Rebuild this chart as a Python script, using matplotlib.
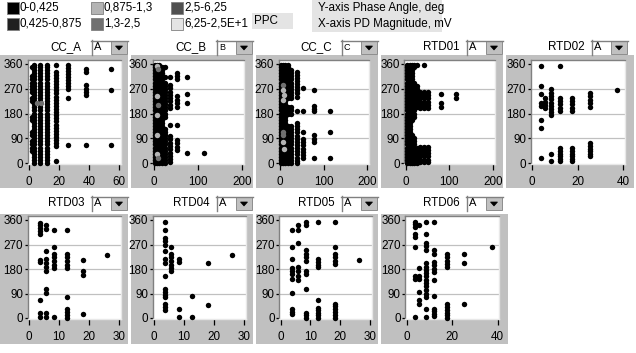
import matplotlib
matplotlib.use('Agg')
import matplotlib.pyplot as plt
from matplotlib.patches import Rectangle, Polygon
from matplotlib.lines import Line2D

# ---------------- data ----------------
legend_labels = ['0-0,425', '0,425-0,875', '0,875-1,3', '1,3-2,5', '2,5-6,25', '6,25-2,5E+1']
legend_colors = ['#000000', '#202020', '#b4b4b4', '#707070', '#505050', '#e4e4e4']
axis_info = ['Y-axis Phase Angle, deg', 'X-axis PD Magnitude, mV']
y_ticks = [0, 90, 180, 270, 360]

panel_names = ['CC_A', 'CC_B', 'CC_C', 'RTD01', 'RTD02', 'RTD03', 'RTD04', 'RTD05', 'RTD06']
panel_phase = ['A', 'B', 'C', 'A', 'A', 'A', 'A', 'A', 'A']
panel_xmax = [60, 200, 200, 200, 40, 30, 30, 30, 40]
panel_xticks = [[0, 20, 40, 60], [0, 100, 200], [0, 100, 200], [0, 100, 200], [0, 20, 40],
                [0, 10, 20, 30], [0, 10, 20, 30], [0, 10, 20, 30], [0, 20, 40]]

# columns of points: (magnitude, [phase angles])
cc_a_cols = [
    (1.8, [349, 315, 304, 292, 281, 270, 259, 236, 225, 169, 158, 112, 101, 79, 68, 56, 45]),
    (3.6, [0, 11, 22, 34, 45, 56, 68, 79, 90, 101, 112, 124, 135, 146, 158, 169, 180, 191, 202, 214,
           225, 236, 248, 259, 270, 281, 292, 304, 315, 326, 338, 349, 358]),
    (7.3, [0, 11, 22, 34, 45, 56, 68, 79, 90, 101, 112, 124, 135, 146, 158, 169, 180, 191, 202, 214,
           225, 236, 248, 259, 270, 281, 292, 304, 315, 326, 338, 349, 358]),
    (12.1, [0, 11, 22, 34, 45, 56, 68, 79, 90, 101, 112, 124, 135, 146, 158, 169, 180, 191, 202, 214,
            225, 236, 248, 259, 270, 281, 292, 304, 315, 326, 338, 349, 358]),
    (17.9, [358, 331, 320, 309, 298, 286, 275, 264, 253, 241, 230, 219, 208, 196, 185, 174, 163, 151,
            140, 129, 118, 106, 95, 84, 73, 61, 6]),
    (25.7, [358, 347, 336, 325, 314, 302, 291, 280, 269, 238, 67]),
    (37.9, [342, 331, 282, 270, 258, 247, 67]),
    (54.7, [342, 266, 67]),
]
cc_a_gray = [(5.2, 220, 3), (8.0, 220, 3)]

cc_b_cols = [
    (2.5, [0, 11, 22, 34, 45, 56, 68, 79, 90, 101, 112, 124, 135, 146, 158, 169, 180, 191, 202, 214,
           225, 236, 248, 259, 270, 281, 292, 304, 315, 326, 338, 349, 358]),
    (7.0, [0, 11, 22, 34, 45, 56, 68, 79, 90, 101, 112, 124, 135, 146, 158, 169, 180, 191, 202, 214,
           225, 236, 248, 259, 270, 281, 292, 304, 315, 326, 338, 349, 358]),
    (12.0, [0, 11, 22, 34, 45, 56, 68, 79, 90, 101, 112, 124, 135, 146, 158, 169, 180, 191, 202, 214,
            225, 236, 248, 259, 270, 281, 292, 304, 315, 326, 338, 349, 358]),
    (18.0, [0, 11, 22, 34, 45, 56, 68, 79, 90, 101, 112, 124, 135, 146, 158, 169, 180, 191, 202, 214,
            225, 236, 248, 259, 270, 281, 292, 304, 315, 326, 338, 349]),
    (24.0, [349, 311, 292, 281, 270, 259, 248, 236, 225, 214, 202, 191, 180, 169, 124, 112, 101, 90,
            79, 68, 56, 45, 34, 22, 11, 0]),
    (36.0, [311, 284, 272, 260, 248, 236, 224, 212, 200, 140, 98, 86, 74, 62, 50, 38, 26, 14, 2]),
    (53.0, [329, 317, 305, 242, 229, 217, 205, 140, 83, 71, 59, 46]),
    (76.0, [311, 251, 217, 38]),
    (114.0, [38]),
]
cc_b_gray = [(6, 352, 2), (8, 343, 3), (6, 242, 2), (8, 211, 3), (6, 175, 2), (6, 101, 2),
             (6, 34, 2), (8, 18, 3)]

cc_c_cols = [
    (2.5, [0, 11, 22, 34, 45, 56, 68, 79, 90, 101, 112, 124, 135, 146, 158, 169, 180, 191, 202, 214,
           225, 236, 248, 259, 270, 281, 292, 304, 315, 326, 338, 349, 358]),
    (7.5, [0, 11, 22, 34, 45, 56, 68, 79, 90, 101, 112, 124, 135, 146, 158, 169, 180, 191, 202, 214,
           225, 236, 248, 259, 270, 281, 292, 304, 315, 326, 338, 349, 358]),
    (12.5, [0, 11, 22, 34, 45, 56, 68, 79, 90, 101, 112, 124, 135, 146, 158, 169, 180, 191, 202, 214,
            225, 236, 248, 259, 270, 281, 292, 304, 315, 326, 338, 349, 358]),
    (18.5, [358, 349, 338, 326, 315, 304, 292, 281, 270, 259, 248, 236, 202, 191, 180, 135, 124, 112,
            101, 90, 79, 68, 56, 45, 34, 22, 11, 0]),
    (26.0, [338, 326, 315, 304, 292, 281, 270, 259, 248, 236, 202, 191, 180, 135, 124, 112, 101, 90,
            79, 68, 56, 45, 34, 22, 11, 0]),
    (38.0, [331, 320, 309, 298, 286, 275, 264, 253, 241, 189, 144, 133, 122, 111, 99, 88, 77, 65, 54,
            43, 32, 20, 9, 0]),
    (53.0, [272, 189, 113, 87, 77, 65, 52, 40, 28, 20]),
    (78.0, [266, 207, 196, 189, 101, 89, 77, 20]),
    (114.0, [189, 113, 20]),
]
cc_c_gray = [(8, 284, 3), (8, 266, 2), (10, 248, 2), (8, 229, 2), (8, 113, 3), (8, 101, 3),
             (8, 77, 2), (9, 52, 2)]

rtd01_cols = [
    (4, [0, 11, 22, 34, 45, 56, 68, 79, 90, 101, 112, 124, 135, 146, 158, 169, 180, 191, 202, 214,
         225, 236, 248, 259, 270, 281, 292, 304, 315, 326, 338, 349, 358]),
    (9, [0, 11, 22, 34, 45, 56, 68, 79, 90, 101, 112, 124, 135, 146, 158, 169, 180, 191, 202, 214,
         225, 236, 248, 259, 270, 281, 292, 304, 315, 326, 338, 349, 358]),
    (14, [358, 349, 338, 326, 315, 304, 292, 281, 270, 259, 248, 236, 225, 214, 202, 191, 180, 169,
          158, 101, 90, 79, 68, 56, 45, 34, 22, 11, 0]),
    (19, [358, 349, 292, 281, 270, 259, 248, 236, 225, 214, 202, 191, 180, 169, 90, 79, 68, 56, 45,
          34, 22, 11, 0]),
    (25, [358, 281, 270, 259, 248, 236, 225, 214, 202, 56, 45, 34, 22, 11, 0]),
    (33, [258, 246, 235, 223, 212, 200, 58, 47, 35, 24, 12, 2]),
    (42, [358, 258, 246, 235, 223, 212, 200, 58, 47, 35, 24, 12, 2]),
    (52, [258, 246, 235, 223, 212, 200, 58, 47, 35, 24, 12, 2]),
    (80, [251, 217, 205]),
    (115, [251, 238]),
]

rtd02_cols = [
    (4.0, [354, 281, 250, 217, 209, 156, 126, 20]),
    (5.9, [235, 223, 211, 199]),
    (8.3, [268, 256, 244, 232, 220, 207, 196, 184, 174, 34, 7]),
    (12.2, [354, 238, 226, 213, 201, 189, 55, 44, 34, 24, 16, 6]),
    (17.6, [238, 226, 213, 201, 189, 55, 44, 34, 24, 16, 6]),
    (25.6, [254, 242, 229, 217, 205, 71, 62, 52, 44, 34, 26]),
    (37.3, [266]),
]

rtd03_cols = [
    (3.8, [350, 340, 330, 320, 308, 214, 204, 65, 20, 5]),
    (5.8, [342, 327, 245, 215, 203, 187, 171, 105, 93, 18, 2]),
    (8.4, [325, 262, 235, 223, 209, 196, 183, 4]),
    (12.5, [325, 235, 223, 209, 196, 183, 77, 34, 22, 10, 0]),
    (18.1, [213, 171, 159, 16]),
    (26.1, [232]),
]

rtd04_cols = [
    (3.8, [354, 323, 293, 282, 270, 245, 215, 203, 156, 107, 96, 86, 76, 50, 40, 30]),
    (5.8, [262, 235, 223, 209, 196, 183, 171]),
    (8.4, [217, 205, 32, 4]),
    (12.5, [79, 4]),
    (18.1, [201, 49]),
    (26.1, [232]),
]

rtd05_cols = [
    (3.9, [323, 262, 215, 184, 172, 160, 142, 92, 34, 22, 13]),
    (5.9, [342, 325, 276, 187, 174, 156, 140]),
    (8.5, [354, 342, 248, 235, 223, 211, 174, 162, 107, 20, 10, 0]),
    (12.6, [354, 217, 207, 196, 187, 65, 38, 28, 20, 10, 0]),
    (18.4, [354, 262, 235, 223, 211, 199, 52, 43, 32, 22, 12, 0]),
    (26.4, [213]),
]

rtd06_cols = [
    (3.7, [354, 346, 336, 309, 296, 262, 156, 144, 4]),
    (5.6, [342, 184, 156, 144, 95, 65, 52]),
    (8.3, [354, 309, 276, 264, 251, 201, 189, 177, 165, 153, 140, 128, 116, 104, 89, 77, 34, 4]),
    (12.2, [354, 248, 235, 205, 193, 181, 168, 140, 79, 34, 26, 16, 6]),
    (17.6, [235, 223, 211, 199, 187, 52, 40, 31, 20, 10, 0]),
    (25.3, [235, 201, 50]),
    (37.3, [262]),
]

panel_cols = [cc_a_cols, cc_b_cols, cc_c_cols, rtd01_cols, rtd02_cols,
              rtd03_cols, rtd04_cols, rtd05_cols, rtd06_cols]
panel_gray = [cc_a_gray, cc_b_gray, cc_c_gray, [], [], [], [], [], []]

# ---------------- layout (pixels) ----------------
W, H = 636, 353
# gray box left/right, data x=0 px, data x=max px, dropdown left, row
layout = [
    (0, 128, 29, 119, 91, 0),
    (131, 253, 154, 242, 216, 0),
    (256, 378, 280, 367, 341, 0),
    (381, 503, 405.7, 493, 466, 0),
    (506, 634, 532, 623, 591, 0),
    (0, 128, 29, 119, 91, 1),
    (131, 253, 154, 244, 216, 1),
    (256, 378, 280.7, 370, 341, 1),
    (381, 508, 406.7, 497.7, 466, 1),
]
rows = [  # gray top, gray bottom, y360 px, y0 px, title y, dropdown top
    (55, 188, 64, 163, 47, 40),
    (214, 344, 220, 318, 203, 196),
]

SANS = ['Liberation Sans', 'DejaVu Sans']
PANEL_GRAY = '#c0c0c0'

fig = plt.figure(figsize=(W / 100, H / 100), dpi=100)
fig.patch.set_facecolor('white')


def box(x0, y0, x1, y1, fc, ec='none', lw=0, z=0):
    fig.patches.append(Rectangle((x0 / W, 1 - y1 / H), (x1 - x0) / W, (y1 - y0) / H,
                                 transform=fig.transFigure, facecolor=fc, edgecolor=ec,
                                 linewidth=lw, zorder=z))


def line(x0, y0, x1, y1, c, lw=1, z=5):
    fig.add_artist(Line2D([x0 / W, x1 / W], [1 - y0 / H, 1 - y1 / H], color=c, lw=lw,
                          transform=fig.transFigure, zorder=z))


def text(x, y, s, ha='left', size=8.4, family=SANS, color='black'):
    fig.text(x / W, 1 - y / H, s, ha=ha, va='center', fontsize=size, family=family, color=color)


# ---------------- legend ----------------
leg_x = [7, 91, 171]
leg_y = [2, 18]
for i, (lab, col) in enumerate(zip(legend_labels, legend_colors)):
    cx = leg_x[i // 2]
    cy = leg_y[i % 2]
    box(cx, cy, cx + 12, cy + 12, col, ec='#808080', lw=0.6)
    text(cx + 13, cy + 6, lab, size=8.4)

box(252, 13, 293, 29, '#e4e4e4')
text(254, 21, 'PPC', size=8.4)
box(312, 0, 442, 32, '#e4e4e4')
text(318, 7.5, axis_info[0], size=8.4)
text(318, 23.5, axis_info[1], size=8.4)

# ---------------- panels ----------------
for p in range(9):
    gl, gr, x0p, x1p, ddl, r = layout[p]
    gt, gb, ytop, ybot, ty, ddt = rows[r]
    xmax = panel_xmax[p]
    box(gl, gt, gr, gb, PANEL_GRAY, z=-5)
    # title
    text(ddl - 25, ty, panel_names[p], ha='center', size=8.4)
    # dropdown
    box(ddl, ddt, ddl + 37, ddt + 15, 'white', z=1)
    line(ddl, ddt + 0.5, ddl + 37, ddt + 0.5, '#808080')
    line(ddl + 0.5, ddt, ddl + 0.5, ddt + 15, '#808080')
    box(ddl + 20, ddt + 1.5, ddl + 36, ddt + 14, PANEL_GRAY, ec='#808080', lw=0.6, z=2)
    tcx, tcy = ddl + 28, ddt + 8
    fig.patches.append(Polygon([((tcx - 3.5) / W, 1 - (tcy - 2) / H), ((tcx + 3.5) / W, 1 - (tcy - 2) / H),
                                (tcx / W, 1 - (tcy + 2) / H)], closed=True, transform=fig.transFigure,
                               facecolor='black', edgecolor='black', lw=0.5, zorder=3))
    text(ddl + 3, ddt + 7.5, panel_phase[p], size=8 if panel_phase[p] == 'A' else 6.5)

    # plot area
    sx = (x1p - x0p) / xmax
    sy = (ybot - ytop) / 360.0
    left_px, right_px = x0p - 1.5, x1p + 1.7
    top_px, bot_px = ytop - 4, ybot + 0.5
    ax = fig.add_axes([left_px / W, 1 - bot_px / H, (right_px - left_px) / W, (bot_px - top_px) / H])
    ax.set_facecolor('white')
    ax.set_xlim(-1.5 / sx, xmax + 1.7 / sx)
    ax.set_ylim(-0.5 / sy, 360 + 4 / sy)
    for yg in [90, 180, 270]:
        ax.axhline(yg, color='#c0c0c0', lw=0.9, zorder=0)
    for side in ['left', 'top']:
        ax.spines[side].set_color('#808080')
        ax.spines[side].set_linewidth(1)
    for side in ['right', 'bottom']:
        ax.spines[side].set_color('#e8e8e8')
        ax.spines[side].set_linewidth(1)
    ax.set_xticks(panel_xticks[p])
    ax.set_xticklabels([str(v) for v in panel_xticks[p]])
    ax.set_yticks(y_ticks)
    ax.set_yticklabels([str(v) for v in y_ticks])
    ax.tick_params(axis='x', direction='out', length=4.3, width=0.9, color='black', pad=4.5,
                   labelsize=8.4)
    ax.tick_params(axis='y', direction='out', length=2.2, width=0.9, color='black', pad=1,
                   labelsize=8.4)
    for lab in ax.get_xticklabels() + ax.get_yticklabels():
        lab.set_family(SANS)

    for xv, ys in panel_cols[p]:
        ax.plot([xv] * len(ys), ys, 'o', ms=3.9, color='black', mew=0, clip_on=False, zorder=3)
    for xv, yv, cat in panel_gray[p]:
        ax.plot([xv], [yv], 'o', ms=3.9, color=legend_colors[cat], mew=0, clip_on=False, zorder=4)

fig.savefig('out.png', dpi=100, facecolor='white')
